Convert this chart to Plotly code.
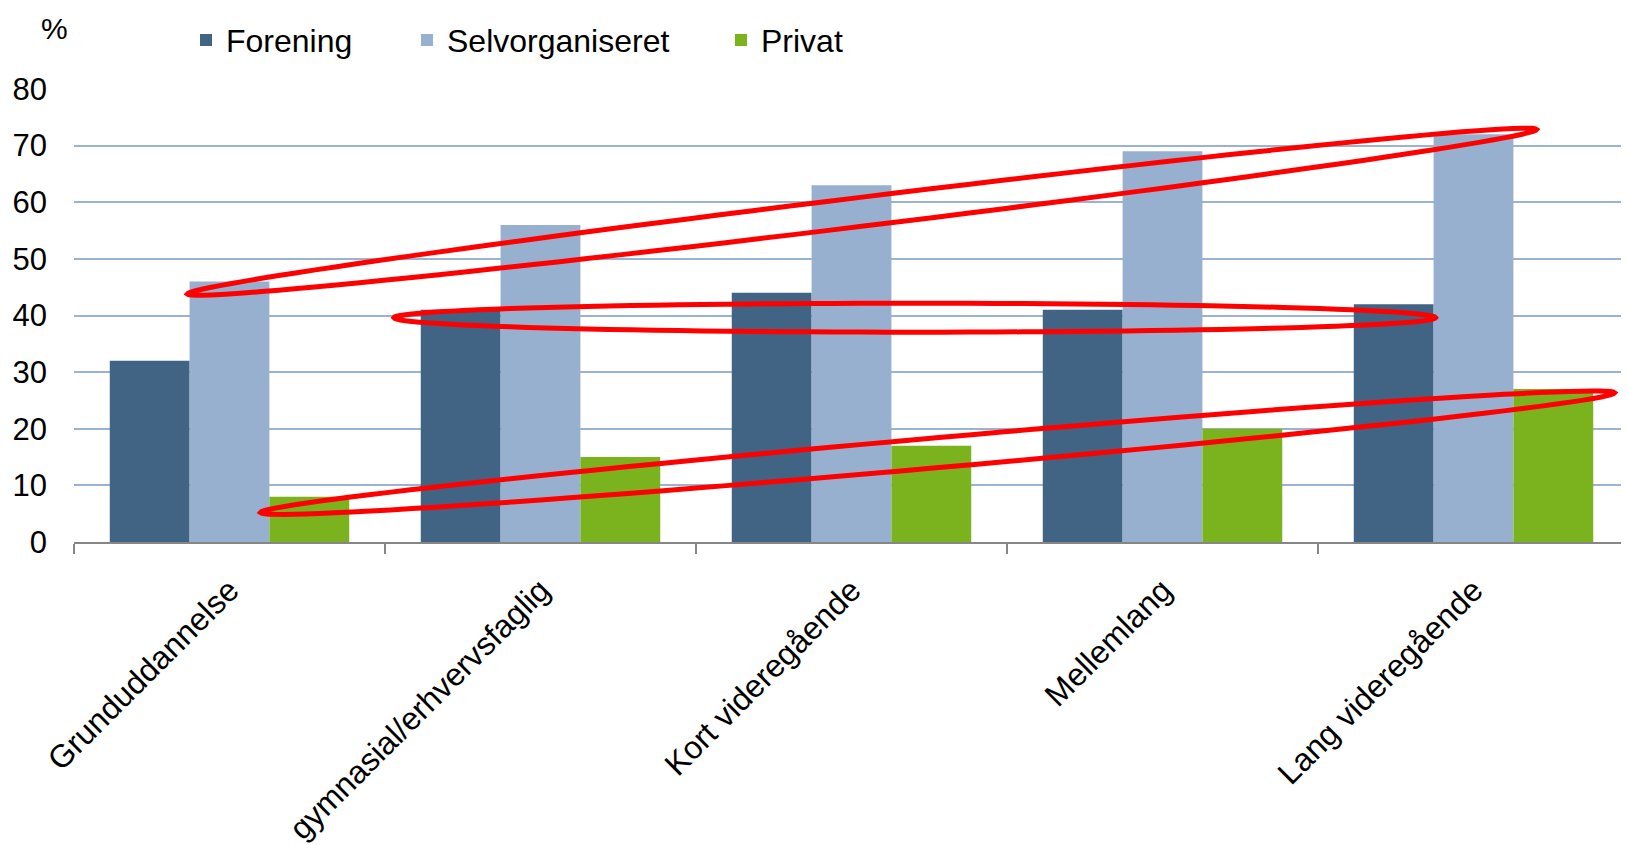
import plotly.graph_objects as go

categories = ["Grunduddannelse", "gymnasial/erhvervsfaglig", "Kort videregående",
              "Mellemlang", "Lang videregående"]
forening = [32, 41, 44, 41, 42]
selvorganiseret = [46, 56, 63, 69, 72]
privat = [8, 15, 17, 20, 27]

series_names = ["Forening", "Selvorganiseret", "Privat"]
colors = ["#416384", "#98B0D0", "#7BB31F"]

OFF = 8  # default page body margin
W, H = 1629 - OFF, 845 - OFF
PLOT_L, PLOT_R, PLOT_T, PLOT_B = 74, 1629, 88.5, 542.5   # target page pixels
ML, MR, MT, MB = PLOT_L - OFF, 0, PLOT_T - OFF, H - (PLOT_B - OFF)
PW, PH = PLOT_R - PLOT_L, PLOT_B - PLOT_T
FONT = "Arial, Liberation Sans, sans-serif"


def px2paper(x, y):
    return (x - PLOT_L) / PW, (PLOT_B - y) / PH


def ellipse_path(left, right, b, n=120):
    import math
    (x1, y1), (x2, y2) = left, right
    cx, cy = (x1 + x2) / 2, (y1 + y2) / 2
    dx, dy = x2 - x1, y2 - y1
    a = math.hypot(dx, dy) / 2
    ux, uy = dx / (2 * a), dy / (2 * a)
    vx, vy = -uy, ux
    pts = []
    for i in range(n + 1):
        t = 2 * math.pi * i / n
        px = cx + a * math.cos(t) * ux + b * math.sin(t) * vx
        py = cy + a * math.cos(t) * uy + b * math.sin(t) * vy
        pts.append(px2paper(px, py))
    return "M" + " L".join(f"{p[0]:.5f},{p[1]:.5f}" for p in pts) + " Z"


# hand-drawn highlight ellipses (page-pixel endpoints, semi-minor axis)
ellipses = [
    ((187.5, 294.0), (1536.5, 129.0), 14.5),
    ((394.0, 317.7), (1435.5, 317.7), 14.5),
    ((260.5, 513.0), (1614.5, 393.0), 15.0),
]

fig = go.Figure()
legend_ids = ["legend", "legend2", "legend3"]
for name, vals, col, lg in zip(series_names, [forening, selvorganiseret, privat], colors, legend_ids):
    fig.add_trace(go.Bar(name=name, x=categories, y=vals, marker_color=col,
                         marker_line_width=0, legend=lg))

legend_px = [200, 421, 735]
legend_common = dict(orientation="h", yanchor="middle", xanchor="left",
                     font=dict(family=FONT, size=32, color="#000000"),
                     bgcolor="rgba(0,0,0,0)", borderwidth=0)
legs = {}
for lg, lx in zip(legend_ids, legend_px):
    xp, yp = px2paper(lx - 14, 39.5)
    legs[lg] = dict(x=xp, y=yp, **legend_common)

shapes = []
for left, right, b in ellipses:
    shapes.append(dict(type="path", xref="paper", yref="paper",
                       path=ellipse_path(left, right, b),
                       line=dict(color="#FF0000", width=5), fillcolor="rgba(0,0,0,0)"))

px_, py_ = px2paper(54, OFF + 1)
fig.update_layout(
    width=W, height=H,
    margin=dict(l=ML, r=MR, t=MT, b=MB, pad=0),
    paper_bgcolor="white", plot_bgcolor="white",
    barmode="group", bargap=0.23, bargroupgap=0,
    font=dict(family=FONT, size=32, color="#000000"),
    showlegend=True,
    shapes=shapes,
    annotations=[dict(text="%", x=px_, y=py_, xref="paper", yref="paper",
                      showarrow=False, xanchor="center", yanchor="top",
                      font=dict(family=FONT, size=30, color="#000000"))],
    xaxis=dict(showline=True, linecolor="#868686", linewidth=1.5,
               ticks="outside", tickson="boundaries", ticklen=10, tickwidth=1.5,
               tickcolor="#868686", tickangle=-45, showgrid=False,
               ticklabelstandoff=15,
               tickfont=dict(family=FONT, size=32, color="#000000")),
    yaxis=dict(range=[0, 80], dtick=10, showgrid=True, gridcolor="#9BB3D3",
               gridwidth=2, zeroline=False, showline=False, ticks="",
               ticklabelstandoff=26,
               tickfont=dict(family=FONT, size=31, color="#000000")),
    **legs,
)

fig.write_html("out.html")
